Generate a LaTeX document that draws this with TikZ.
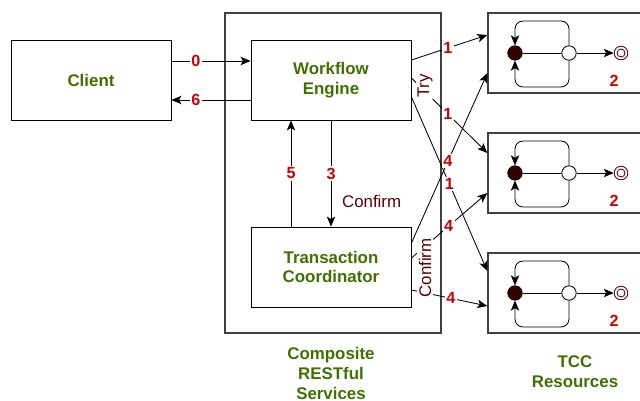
\documentclass[tikz,border=0pt]{standalone}
\usepackage{fontspec}
\setmainfont{Liberation Sans}
\usetikzlibrary{arrows.meta}
\definecolor{capgreen}{RGB}{64,112,0}
\definecolor{numred}{RGB}{204,0,0}
\definecolor{lbldark}{RGB}{90,0,0}
\definecolor{statefill}{RGB}{51,0,0}

\begin{document}
\begin{tikzpicture}[x=0.025cm, y=-0.025cm, line width=0.6pt,
  every node/.style={font=\fontsize{12}{14}\selectfont},
  box/.style={draw, minimum width=4cm, minimum height=2cm, align=center, text=capgreen, font=\fontsize{12}{14}\selectfont\bfseries},
  resbox/.style={draw=black!75, line width=0.9pt, minimum width=3.925cm, minimum height=2cm},
  num/.style={fill=white, text=numred, inner sep=1pt, font=\fontsize{11.5}{13}\selectfont\bfseries},
  side/.style={fill=white, text=lbldark, rotate=90, inner sep=1pt},
  captxt/.style={align=center, text=capgreen, font=\fontsize{12}{14.2}\selectfont\bfseries},
  arr/.style={-{Stealth[length=2.5mm,width=2.1mm,inset=0.6mm]}}]
\useasboundingbox (0,0) rectangle (640,401);
\clip (0,0) rectangle (640,401);

% composite service box
\node[draw=black!75, line width=0.9pt, minimum width=5.4cm, minimum height=8cm] (comp) at (333,173) {};
\node[captxt] (compcap) at (331,373) {Composite\\RESTful\\Services};

\node[box] (cl) at (91,80) {Client};
\node[box] (we) at (331,80) {Workflow\\Engine};
\node[box] (tc) at (331,267) {Transaction\\Coordinator};

% client <-> engine
\draw[arr] (cl.east |- 0,61) -- node[num, pos=.31] {0} (we.west |- 0,61);
\draw[arr] (we.west |- 0,100) -- node[num, pos=.69] {6} (cl.east |- 0,100);

% engine <-> coordinator
\draw[arr] (we.south -| 331,0) -- node[num] {3} (tc.north -| 331,0);
\draw[arr] (tc.north -| 291,0) -- node[num] {5} (we.south -| 291,0);
\node[anchor=west, text=lbldark] (conf) at (337,201) {Confirm};

% TCC resources
\foreach \i/\yc in {1/53, 2/173, 3/293} {
  \node[resbox] (r\i) at (566.5,\yc) {};
  \node[circle, draw, fill=statefill, minimum size=0.36cm, inner sep=0pt] (s\i) at (515,\yc) {};
  \node[circle, draw, fill=white, minimum size=0.36cm, inner sep=0pt] (t\i) at (569,\yc) {};
  \node[circle, draw=lbldark, minimum size=0.34cm, inner sep=0pt] (f\i) at (621,\yc) {};
  \draw[lbldark] (f\i.center) circle (4);
  \draw (s\i) -- (t\i);
  \draw[arr] (t\i) -- (f\i);
  \draw[arr, rounded corners=0.2cm] (t\i.north) |- (515,\yc-32) -- (s\i.north);
  \draw[arr, rounded corners=0.2cm] (t\i.south) |- (515,\yc+34) -- (s\i.south);
  \node[num] (n\i) at (614,\yc+28) {2};
}
\node[captxt] (rescap) at (575,372) {TCC\\Resources};

% try
\draw[arr] (we.east |- 0,60) -- node[num, pos=.48] {1} (r1.west |- 0,35);
\draw[arr] (we.east |- 0,78) -- node[num, pos=.48] {1} (r2.west |- 0,153);
\draw[arr] (we.east |- 0,97) -- node[num, pos=.5] {1} (r3.west |- 0,271);
\node[side] (try) at (425,86) {Try};

% confirm
\draw[arr] (tc.east |- 0,243) -- node[num, pos=.48] {4} (r1.west |- 0,73);
\draw[arr] (tc.east |- 0,258) -- node[num, pos=.49] {4} (r2.west |- 0,193);
\draw[arr] (tc.east |- 0,290) -- node[num, pos=.52] {4} (r3.west |- 0,306);
\node[side] (cfm) at (425,268) {Confirm};
\end{tikzpicture}
\end{document}
